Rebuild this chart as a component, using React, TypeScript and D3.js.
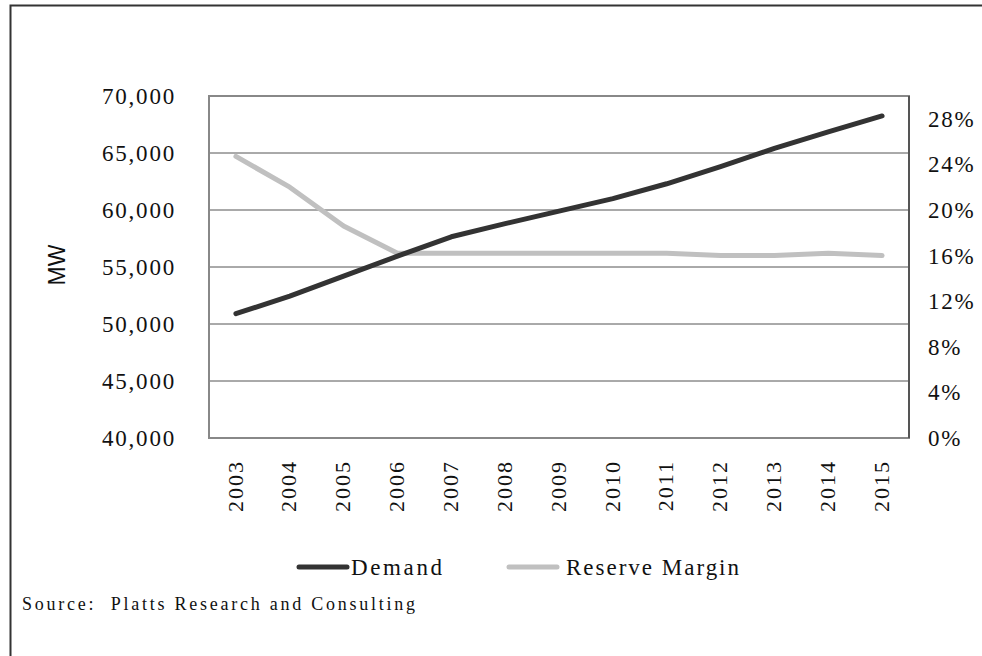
import React from 'react';
import * as d3 from 'd3';

const years = ['2003', '2004', '2005', '2006', '2007', '2008', '2009', '2010', '2011', '2012', '2013', '2014', '2015'];
const demand = [50900, 52450, 54200, 55950, 57650, 58800, 59900, 61000, 62300, 63800, 65400, 66850, 68250];
const reserveMargin = [0.247, 0.22, 0.186, 0.162, 0.162, 0.162, 0.162, 0.162, 0.162, 0.16, 0.16, 0.162, 0.16];
const leftTicks = [40000, 45000, 50000, 55000, 60000, 65000, 70000];
const rightTicks = [0, 0.04, 0.08, 0.12, 0.16, 0.2, 0.24, 0.28];

const serif = '"Liberation Serif", "Times New Roman", serif';

export default function App() {
  const W = 982;
  const H = 656;
  const plot = { left: 209, right: 909, top: 96, bottom: 438 };

  const x = d3.scaleBand<string>().domain(years).range([plot.left, plot.right]);
  const yL = d3.scaleLinear().domain([40000, 70000]).range([plot.bottom, plot.top]);
  const yR = d3.scaleLinear().domain([0, 0.3]).range([plot.bottom, plot.top]);
  const cx = (yr: string) => (x(yr) || 0) + x.bandwidth() / 2;

  const demandLine = d3.line<number>()
    .x((_, i) => cx(years[i]))
    .y(d => yL(d));
  const reserveLine = d3.line<number>()
    .x((_, i) => cx(years[i]))
    .y(d => yR(d));

  const fmt = d3.format(',');
  const pct = d3.format('.0%');

  return (
    <div>
      <style>{'body{margin:0}'}</style>
      <svg width={W} height={H} style={{ display: 'block', background: '#fff' }}>
        {/* outer frame, open at right and bottom */}
        <path d={`M10.5,${H + 10}V5.5H${W + 10}`} fill="none" stroke="#333" strokeWidth={2} />

        {/* gridlines */}
        {leftTicks.slice(1, -1).map(t => (
          <line key={t} x1={plot.left} x2={plot.right} y1={yL(t)} y2={yL(t)} stroke="#555" strokeWidth={1} />
        ))}
        <rect x={plot.left} y={plot.top} width={plot.right - plot.left} height={plot.bottom - plot.top}
          fill="none" stroke="#888" strokeWidth={2} />
        <line x1={plot.right} x2={plot.right} y1={plot.top} y2={plot.bottom} stroke="#555" strokeWidth={2} />

        {/* left axis */}
        {leftTicks.map(t => (
          <text key={t} x={176} y={yL(t)} dy="0.35em" textAnchor="end" fontFamily={serif} fontSize={23}
            letterSpacing={1.8} fill="#111">{fmt(t)}</text>
        ))}
        <text transform="translate(57,265) rotate(-90)" textAnchor="middle" dy="0.35em"
          fontFamily='"Liberation Sans", Arial, sans-serif' fontSize={23} fill="#111">MW</text>

        {/* right axis */}
        {rightTicks.map(t => (
          <text key={t} x={928} y={yR(t)} dy="0.35em" textAnchor="start" fontFamily={serif} fontSize={23}
            letterSpacing={1.8} fill="#111">{pct(t)}</text>
        ))}

        {/* x axis labels */}
        {years.map(yr => (
          <text key={yr} transform={`translate(${cx(yr) - 1},460) rotate(-90)`} textAnchor="end" dy="0.35em"
            fontFamily={serif} fontSize={22} letterSpacing={2} fill="#111">{yr}</text>
        ))}

        {/* series */}
        <path d={reserveLine(reserveMargin) || ''} fill="none" stroke="#c0c0c0" strokeWidth={5}
          strokeLinejoin="round" strokeLinecap="round" />
        <path d={demandLine(demand) || ''} fill="none" stroke="#333" strokeWidth={5}
          strokeLinejoin="round" strokeLinecap="round" />

        {/* legend */}
        <line x1={299} x2={347} y1={567} y2={567} stroke="#333" strokeWidth={5} strokeLinecap="round" />
        <text x={351} y={575} fontFamily={serif} fontSize={23} textLength={91} lengthAdjust="spacing" fill="#111">Demand</text>
        <line x1={509} x2={557} y1={567} y2={567} stroke="#c0c0c0" strokeWidth={5} strokeLinecap="round" />
        <text x={566} y={575} fontFamily={serif} fontSize={23} textLength={173} lengthAdjust="spacing" fill="#111">Reserve Margin</text>

        {/* source */}
        <text x={22} y={610} fontFamily={serif} fontSize={18} textLength={393} lengthAdjust="spacing" fill="#111"
          style={{ whiteSpace: 'pre' }}>{'Source:  Platts Research and Consulting'}</text>
      </svg>
    </div>
  );
}
